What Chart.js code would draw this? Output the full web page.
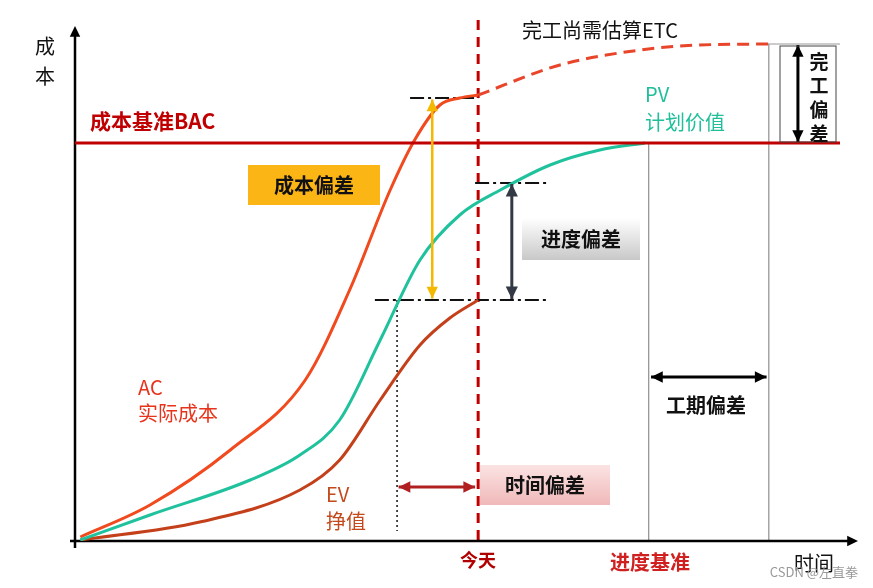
<!DOCTYPE html><html><head><meta charset="utf-8">
<script src="https://cdn.jsdelivr.net/npm/chart.js@4/dist/chart.umd.min.js"></script>
<style>html,body{margin:0;background:#fff}#w{width:873px;height:588px}</style></head><body><div id="w"><canvas id="c"></canvas></div>
<script>
const acPts=[[0.7,0.8],[9.8,7.2],[20.3,18.2],[30.1,32.2],[35.9,50.2],[41.2,70.2],[44.4,80.2],[47.7,87.2],[50.3,88.6],[52.7,89.2]];
const etcPts=[[52.7,89.2],[63.4,95.2],[73.9,98.2],[81.7,99.2],[90.8,99.4]];
const pvPts=[[0.7,0.2],[9.8,5.2],[22.9,12.2],[29.4,17.2],[34.6,24.2],[39.9,40.2],[45.1,56.2],[50.3,65.2],[55.6,70.2],[62.1,75.2],[68.6,78.2],[74.5,79.6]];
const evPts=[[0.7,0.2],[16.3,3.8],[29.4,10.2],[34.6,16.2],[39.9,28.2],[45.1,39.2],[49,44.6],[52.7,48.2]];
const bac=79.6, today=52.7, pvEnd=75.0, etcEnd=90.7;
const toXY=a=>a.map(p=>({x:p[0],y:p[1]}));
const F='"Noto Sans CJK SC","Noto Sans",sans-serif';
function arrowHead(ctx,x1,y1,x2,y2,s){const a=Math.atan2(y2-y1,x2-x1);ctx.beginPath();ctx.moveTo(x2,y2);ctx.lineTo(x2-s*Math.cos(a-0.45),y2-s*Math.sin(a-0.45));ctx.lineTo(x2-s*Math.cos(a+0.45),y2-s*Math.sin(a+0.45));ctx.closePath();ctx.fill();}
function dArrow(ctx,x1,y1,x2,y2,col,w,s){ctx.save();ctx.strokeStyle=col;ctx.fillStyle=col;ctx.lineWidth=w;ctx.setLineDash([]);ctx.beginPath();ctx.moveTo(x1,y1);ctx.lineTo(x2,y2);ctx.stroke();arrowHead(ctx,x1,y1,x2,y2,s);arrowHead(ctx,x2,y2,x1,y1,s);ctx.restore();}
function line(ctx,x1,y1,x2,y2,col,w,dash){ctx.save();ctx.strokeStyle=col;ctx.lineWidth=w;ctx.setLineDash(dash||[]);ctx.beginPath();ctx.moveTo(x1,y1);ctx.lineTo(x2,y2);ctx.stroke();ctx.restore();}
function txt(ctx,t,x,y,col,size,bold,align){ctx.save();ctx.fillStyle=col;ctx.font=(bold?'bold ':'')+size+'px '+F;ctx.textAlign=align||'left';ctx.textBaseline='middle';ctx.fillText(t,x,y);ctx.restore();}
const deco={id:'deco',
beforeDatasetsDraw(ch){const ctx=ch.ctx,X=v=>ch.scales.x.getPixelForValue(v),Y=v=>ch.scales.y.getPixelForValue(v);
 line(ctx,X(pvEnd),Y(bac),X(pvEnd),Y(0),'#777',1);
 line(ctx,X(etcEnd),Y(99.4),X(etcEnd),Y(0),'#777',1);
 line(ctx,X(89),Y(99.4),X(100),Y(99.4),'#999',1);
 line(ctx,X(today),20,X(today),Y(0),'#c00000',3,[10,7]);
 const dd=[14,4,3,4];
 line(ctx,X(43.8),Y(88.6),X(52.7),Y(88.6),'#111',1.8,dd);
 line(ctx,X(52.3),Y(71.6),X(61.8),Y(71.6),'#111',1.8,dd);
 line(ctx,X(39.2),Y(48.2),X(61.8),Y(48.2),'#111',1.8,dd);
 line(ctx,X(42.1),Y(48.2),X(42.1),Y(2),'#111',1.5,[2,3]);
 ctx.save();ctx.fillStyle='#000';
 line(ctx,70,Y(0),852,Y(0),'#000',2.5);arrowHead(ctx,70,Y(0),858,Y(0),12);
 line(ctx,X(0),548,X(0),34,'#000',2.5);arrowHead(ctx,X(0),548,X(0),26,12);ctx.restore();
},
afterDatasetsDraw(ch){const ctx=ch.ctx,X=v=>ch.scales.x.getPixelForValue(v),Y=v=>ch.scales.y.getPixelForValue(v);
 dArrow(ctx,X(46.7),Y(88.3),X(46.7),Y(48.5),'#f5b800',2.5,13);
 dArrow(ctx,X(57.1),Y(71.4),X(57.1),Y(48.4),'#333a45',3,14);
 dArrow(ctx,X(94.5),Y(99.2),X(94.5),Y(79.8),'#000',3,13);
 dArrow(ctx,X(75.3),Y(32.8),X(90.4),Y(32.8),'#000',3,13);
 dArrow(ctx,X(42.3),Y(10.8),X(52.3),Y(10.8),'#b02020',3,13);
 ctx.save();ctx.fillStyle='#fbb514';ctx.fillRect(248,165,132,40);
 let g=ctx.createLinearGradient(0,218,0,260);g.addColorStop(0,'#ffffff');g.addColorStop(1,'#c8c8c8');ctx.fillStyle=g;ctx.fillRect(522,218,118,42);
 g=ctx.createLinearGradient(0,465,0,505);g.addColorStop(0,'#fbe3e3');g.addColorStop(1,'#f0b8b8');ctx.fillStyle=g;ctx.fillRect(480,465,130,40);
 ctx.strokeStyle='#444';ctx.lineWidth=1;ctx.strokeRect(780,46,56,96);ctx.fillStyle='#fff';ctx.fillRect(804,48,30,92);ctx.restore();
 txt(ctx,'成本偏差',314,185,'#111',20,true,'center');
 txt(ctx,'进度偏差',581,239,'#111',20,true,'center');
 txt(ctx,'时间偏差',545,485,'#111',20,true,'center');
 txt(ctx,'工期偏差',706,405,'#111',20,true,'center');
 ['完','工','偏','差'].forEach((c,i)=>txt(ctx,c,819,62+i*24,'#111',19,true,'center'));
 txt(ctx,'成',45,46,'#111',20,false,'center');txt(ctx,'本',45,76,'#111',20,false,'center');
 txt(ctx,'时间',814,563,'#111',20,false,'center');
 txt(ctx,'今天',478,560,'#b00000',18,true,'center');
 txt(ctx,'进度基准',650,562,'#d02020',20,true,'center');
 txt(ctx,'成本基准BAC',90,121,'#c00000',21,true);
 txt(ctx,'完工尚需估算ETC',522,30,'#111',20,false);
 txt(ctx,'PV',645,94,'#1fbf9a',20,false);txt(ctx,'计划价值',645,122,'#1fbf9a',20,false);
 txt(ctx,'AC',138,387,'#e8331c',20,false);txt(ctx,'实际成本',138,413,'#e8331c',20,false);
 txt(ctx,'EV',326,494,'#c24a1c',20,false);txt(ctx,'挣值',326,521,'#c24a1c',20,false);
 txt(ctx,'CSDN @左直拳',858,572,'#999',13,false,'right');
}};
new Chart(document.getElementById('c'),{type:'line',
data:{datasets:[
 {data:[{x:-1,y:bac},{x:100,y:bac}],borderColor:'#c00000',borderWidth:3,pointRadius:0},
 {data:toXY(pvPts),borderColor:'#1fc29c',borderWidth:3,pointRadius:0,cubicInterpolationMode:'monotone'},
 {data:toXY(evPts),borderColor:'#c4401a',borderWidth:3,pointRadius:0,cubicInterpolationMode:'monotone'},
 {data:toXY(acPts),borderColor:'#f04a1e',borderWidth:3,pointRadius:0,cubicInterpolationMode:'monotone'},
 {data:toXY(etcPts),borderColor:'#e8452a',borderWidth:3,pointRadius:0,borderDash:[12,7],cubicInterpolationMode:'monotone'}
]},
options:{responsive:true,maintainAspectRatio:false,animation:false,parsing:false,
 layout:{padding:{left:75,right:33,top:41,bottom:47}},
 plugins:{legend:{display:false},tooltip:{enabled:false}},
 scales:{x:{type:'linear',min:0,max:100,display:false},y:{type:'linear',min:0,max:100,display:false}}},
plugins:[deco]});
</script></body></html>
